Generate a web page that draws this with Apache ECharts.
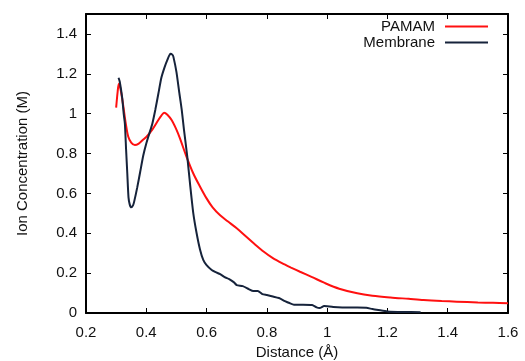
<!DOCTYPE html>
<html>
<head>
<meta charset="utf-8">
<script src="https://cdn.jsdelivr.net/npm/echarts@6/dist/echarts.min.js"></script>
<style>html,body{margin:0;padding:0;background:#fff}#c{width:525px;height:361px}</style>
</head>
<body>
<div id="c"></div>
<script>
const seriesNames = ['PAMAM', 'Membrane'];
const xTicks = [0.2, 0.4, 0.6, 0.8, 1, 1.2, 1.4, 1.6];
const yTicks = [0, 0.2, 0.4, 0.6, 0.8, 1, 1.2, 1.4];

const pamamX = [0.300, 0.305, 0.309, 0.315, 0.324, 0.332, 0.340, 0.350, 0.362, 0.375, 0.390, 0.401, 0.420, 0.440, 0.450, 0.459, 0.470, 0.484, 0.500, 0.512, 0.532, 0.556, 0.578, 0.600, 0.620, 0.645, 0.670, 0.700, 0.730, 0.760, 0.790, 0.820, 0.850, 0.880, 0.910, 0.950, 0.990, 1.040, 1.100, 1.150, 1.210, 1.270, 1.320, 1.380, 1.430, 1.500, 1.550, 1.600];
const pamamY = [1.03, 1.11, 1.15, 1.12, 1.035, 0.95, 0.885, 0.855, 0.843, 0.85, 0.87, 0.885, 0.92, 0.968, 0.99, 1.005, 0.995, 0.968, 0.92, 0.875, 0.79, 0.70, 0.635, 0.575, 0.53, 0.49, 0.46, 0.425, 0.385, 0.345, 0.307, 0.275, 0.25, 0.228, 0.207, 0.18, 0.152, 0.122, 0.099, 0.087, 0.078, 0.071, 0.065, 0.060, 0.057, 0.053, 0.051, 0.049];

const membX = [0.308, 0.312, 0.320, 0.325, 0.329, 0.333, 0.337, 0.341, 0.345, 0.350, 0.356, 0.360, 0.370, 0.380, 0.390, 0.400, 0.410, 0.420, 0.430, 0.440, 0.450, 0.460, 0.470, 0.480, 0.487, 0.490, 0.500, 0.510, 0.5175, 0.525, 0.536, 0.545, 0.556, 0.567, 0.578, 0.589, 0.600, 0.617, 0.630, 0.645, 0.660, 0.675, 0.690, 0.700, 0.720, 0.740, 0.755, 0.770, 0.785, 0.800, 0.820, 0.840, 0.860, 0.875, 0.890, 0.920, 0.950, 0.965, 0.975, 0.990, 1.000, 1.020, 1.050, 1.100, 1.130, 1.150, 1.170, 1.200, 1.250, 1.310];
const membY = [1.18, 1.16, 1.08, 1.00, 0.95, 0.82, 0.70, 0.58, 0.545, 0.53, 0.54, 0.56, 0.63, 0.71, 0.79, 0.85, 0.90, 0.95, 1.02, 1.10, 1.18, 1.23, 1.27, 1.30, 1.295, 1.285, 1.21, 1.10, 1.02, 0.92, 0.784, 0.65, 0.50, 0.40, 0.32, 0.266, 0.24, 0.216, 0.205, 0.195, 0.18, 0.17, 0.155, 0.14, 0.135, 0.12, 0.11, 0.11, 0.095, 0.09, 0.083, 0.075, 0.06, 0.05, 0.042, 0.042, 0.04, 0.028, 0.025, 0.035, 0.034, 0.030, 0.028, 0.028, 0.026, 0.02, 0.015, 0.008, 0.005, 0.004];

const pairs = (xs, ys) => xs.map((x, i) => [x, ys[i]]);
const colors = ['#ff1010', '#16233b'];
const font = 'Liberation Sans, Arial, Helvetica, sans-serif';

const axisCommon = {
  axisLine: { show: true, onZero: false, lineStyle: { color: '#000', width: 2 } },
  axisTick: { show: true, inside: true, length: 5, lineStyle: { color: '#000', width: 1 } },
  splitLine: { show: false }
};

const chart = echarts.init(document.getElementById('c'));
chart.setOption({
  animation: false,
  backgroundColor: '#fff',
  grid: { left: 86, right: 17, top: 14, bottom: 48, containLabel: false, outerBoundsMode: 'none' },
  legend: [0, 1].map(i => ({
    data: [seriesNames[i]],
    right: 37,
    top: i === 0 ? 19 : 35,
    orient: 'vertical',
    align: 'right',
    padding: 0,
    itemWidth: 43,
    itemHeight: 2,
    icon: 'rect',
    selectedMode: false,
    formatter: '{a|{name}}',
    textStyle: { rich: { a: { fontFamily: font, fontSize: 15, color: '#111', padding: [0, 5, 0, 0] } } }
  })),
  xAxis: [
    Object.assign({}, axisCommon, {
      type: 'value', min: 0.2, max: 1.6, interval: 0.2, position: 'bottom',
      name: 'Distance (Å)', nameLocation: 'middle', nameGap: 30,
      nameTextStyle: { fontFamily: font, fontSize: 15, color: '#111' },
      axisLabel: { margin: 12, fontFamily: font, fontSize: 15, color: '#111',
        formatter: v => { const t = xTicks.find(k => Math.abs(k - v) < 1e-6); return t === undefined ? '' : String(t); } }
    }),
    Object.assign({}, axisCommon, {
      type: 'value', min: 0.2, max: 1.6, interval: 0.2, position: 'top',
      axisLabel: { show: false }
    })
  ],
  yAxis: [
    Object.assign({}, axisCommon, {
      type: 'value', min: 0, max: 1.5, interval: 0.2, position: 'left',
      name: 'Ion Concentration (M)', nameLocation: 'middle', nameGap: 56, nameRotate: 90,
      nameTextStyle: { fontFamily: font, fontSize: 15, color: '#111' },
      axisLabel: { margin: 9, fontFamily: font, fontSize: 15, color: '#111', showMaxLabel: false,
        formatter: v => { const t = yTicks.find(k => Math.abs(k - v) < 1e-6); return t === undefined ? '' : String(t); } }
    }),
    Object.assign({}, axisCommon, {
      type: 'value', min: 0, max: 1.5, interval: 0.2, position: 'right',
      axisLabel: { show: false }
    })
  ],
  series: [
    { name: seriesNames[0], type: 'line', data: pairs(pamamX, pamamY), symbol: 'none', smooth: 0.3,
      lineStyle: { color: colors[0], width: 2 }, itemStyle: { color: colors[0] } },
    { name: seriesNames[1], type: 'line', data: pairs(membX, membY), symbol: 'none', smooth: 0.2,
      lineStyle: { color: colors[1], width: 2 }, itemStyle: { color: colors[1] } }
  ]
});
</script>
</body>
</html>
